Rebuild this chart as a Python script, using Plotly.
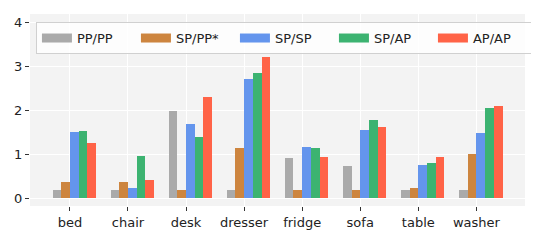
import plotly.graph_objects as go

categories = ["bed", "chair", "desk", "dresser", "fridge", "sofa", "table", "washer"]
series_names = ["PP/PP", "SP/PP*", "SP/SP", "SP/AP", "AP/AP"]
pp_pp = [0.2, 0.2, 1.98, 0.2, 0.92, 0.73, 0.2, 0.2]
sp_pp = [0.37, 0.37, 0.2, 1.14, 0.2, 0.2, 0.23, 1.0]
sp_sp = [1.51, 0.23, 1.69, 2.71, 1.17, 1.55, 0.76, 1.48]
sp_ap = [1.53, 0.96, 1.39, 2.85, 1.14, 1.78, 0.80, 2.05]
ap_ap = [1.26, 0.42, 2.31, 3.22, 0.94, 1.62, 0.94, 2.09]
series_values = [pp_pp, sp_pp, sp_sp, sp_ap, ap_ap]
colors = ["#aaaaaa", "#cd853f", "#6495ed", "#3cb371", "#ff6347"]
y_ticks = [0, 1, 2, 3, 4]

bar_w = 0.15
xs = list(range(len(categories)))

fig = go.Figure()
for i, (name, vals, col) in enumerate(zip(series_names, series_values, colors)):
    fig.add_trace(go.Bar(
        x=xs, y=vals, name=name, width=bar_w, offset=-0.3 + i * bar_w,
        marker=dict(color=col, line=dict(width=0)), showlegend=False,
    ))
for name, col in zip(series_names, colors):
    fig.add_trace(go.Scatter(
        x=[None], y=[None], mode="lines", name=name,
        line=dict(color=col, width=9),
    ))

# page body has an 8px margin, so the figure is 8px smaller and offset
fig.update_layout(
    width=531, height=232,
    margin=dict(l=22, r=14, t=6, b=34),
    paper_bgcolor="white", plot_bgcolor="#f3f3f3",
    barmode="overlay", bargap=0,
    font=dict(family="DejaVu Sans", size=13, color="#222222"),
    showlegend=True,
    legend=dict(
        orientation="h", x=0.012, y=0.958, xanchor="left", yanchor="top",
        bgcolor="rgba(255,255,255,0.8)", bordercolor="#d0d0d0", borderwidth=1,
        font=dict(size=13, color="#222222"), entrywidth=54, entrywidthmode="pixels",
        tracegroupgap=0,
    ),
    xaxis=dict(
        range=[-0.6875, 7.8375], tickmode="array", tickvals=xs, ticktext=categories,
        showgrid=True, gridcolor="white", gridwidth=1, zeroline=False,
        ticks="outside", ticklen=4, tickcolor="#333333", showline=False,
        automargin=False,
    ),
    yaxis=dict(
        range=[-0.175, 4.19], tickmode="array", tickvals=y_ticks,
        ticktext=[str(t) for t in y_ticks],
        showgrid=True, gridcolor="white", gridwidth=1, zeroline=False,
        ticks="outside", ticklen=4, tickcolor="#333333", showline=False,
        automargin=False,
    ),
)
fig.write_html("out.html")
